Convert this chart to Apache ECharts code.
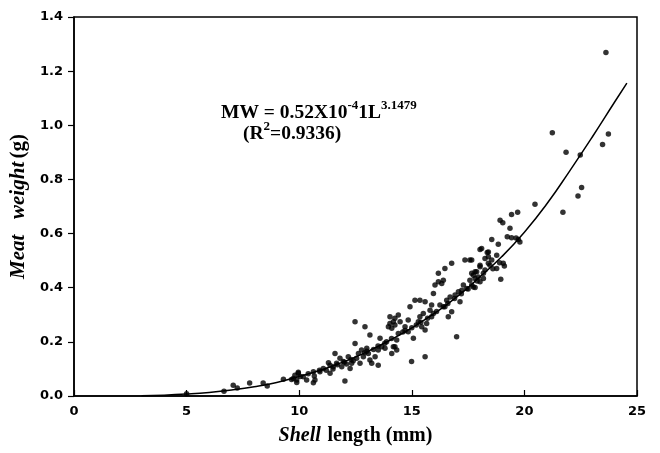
<!DOCTYPE html>
<html><head><meta charset="utf-8">
<script src="https://cdn.jsdelivr.net/npm/echarts@6/dist/echarts.min.js"></script>
<style>html,body{margin:0;padding:0;background:#fff}#c{width:660px;height:453px}</style>
</head><body><div id="c"></div>
<script>
const xTicks = [0, 5, 10, 15, 20, 25];
const yTicks = [0.0, 0.2, 0.4, 0.6, 0.8, 1.0, 1.2, 1.4];
// observed shell length (mm)
const shellLength = [
5.0,6.66,7.07,7.25,7.80,8.40,8.58,9.30,9.66,9.74,9.81,9.89,9.89,9.96,9.96,10.05,10.18,10.33,10.63,10.63,10.67,10.70,10.92,11.07,11.30,11.37,11.37,11.20,11.51,11.59,11.66,11.81,11.89,11.96,12.03,12.18,12.26,12.33,12.48,12.48,12.55,12.63,12.70,12.77,12.85,12.92,13.00,13.07,13.14,13.14,13.22,13.37,13.51,13.51,13.59,13.66,13.81,13.88,14.03,14.03,13.96,14.25,14.11,14.25,14.33,14.40,14.40,12.10,12.40,11.50,
14.18,14.25,14.11,14.48,14.18,14.33,14.70,14.84,14.84,14.92,14.99,15.07,15.14,15.36,15.59,15.29,15.36,15.51,15.44,15.59,15.66,15.59,15.81,15.88,15.96,16.03,15.88,15.96,16.18,16.33,16.40,16.18,16.47,16.77,16.25,16.47,16.55,16.70,16.77,16.62,16.99,16.92,17.07,17.22,17.14,17.29,17.44,17.36,17.58,17.58,17.66,17.81,17.73,17.95,18.03,18.10,18.03,18.18,18.25,18.40,18.40,
20.47,19.43,19.70,18.92,19.04,19.36,19.24,19.43,19.73,19.80,19.63,18.55,18.84,18.03,18.35,17.66,18.40,18.55,18.47,18.77,18.03,18.25,17.88,18.18,17.73,17.81,17.66,17.81,18.77,19.06,19.11,18.95,
23.62,21.24,21.85,22.48,23.47,23.73,22.54,22.38,21.71,
12.00,12.30,13.00,13.30,13.80,14.10,14.60,15.00,15.20,15.70,16.10,16.40,16.90,17.20,17.50,17.90,18.60,18.90,10.40,10.90,11.70,12.90,13.50,14.70,15.40,16.60
];
// observed meat weight (g)
const meatWeight = [
0.008,0.018,0.040,0.030,0.048,0.048,0.037,0.062,0.061,0.065,0.077,0.059,0.050,0.088,0.084,0.072,0.071,0.059,0.090,0.049,0.074,0.059,0.090,0.102,0.123,0.084,0.114,0.095,0.108,0.157,0.121,0.139,0.108,0.127,0.055,0.145,0.102,0.121,0.274,0.194,0.139,0.157,0.121,0.170,0.145,0.256,0.176,0.157,0.133,0.225,0.121,0.145,0.114,0.170,0.213,0.182,0.176,0.200,0.293,0.268,0.256,0.287,0.157,0.182,0.207,0.231,0.299,0.118,0.130,0.100,
0.274,0.262,0.250,0.274,0.182,0.170,0.256,0.281,0.237,0.330,0.127,0.213,0.354,0.354,0.348,0.274,0.293,0.305,0.256,0.244,0.268,0.145,0.317,0.336,0.379,0.410,0.293,0.305,0.422,0.416,0.428,0.453,0.471,0.490,0.336,0.330,0.354,0.366,0.311,0.293,0.219,0.373,0.385,0.391,0.348,0.410,0.397,0.502,0.502,0.428,0.453,0.459,0.403,0.440,0.477,0.545,0.422,0.434,0.508,0.532,0.490,
0.708,0.670,0.679,0.649,0.640,0.620,0.588,0.585,0.578,0.569,0.584,0.578,0.561,0.541,0.530,0.502,0.514,0.502,0.483,0.520,0.483,0.465,0.459,0.453,0.446,0.434,0.410,0.401,0.471,0.490,0.480,0.431,
1.269,0.972,0.900,0.890,0.929,0.968,0.770,0.739,0.679,
0.125,0.135,0.165,0.172,0.195,0.212,0.236,0.252,0.262,0.287,0.312,0.330,0.360,0.378,0.395,0.425,0.470,0.492,0.082,0.095,0.115,0.160,0.185,0.242,0.272,0.342
];
// fitted curve
const curveX = [3,4,5,6,7,8,9,10,11,12,13,14,15,16,17,18,19,20,21,22,23,24,24.55];
const curveY = [0.001,0.003,0.007,0.013,0.022,0.034,0.050,0.072,0.097,0.127,0.163,0.205,0.252,0.305,0.366,0.438,0.515,0.605,0.71,0.83,0.955,1.085,1.156];

const pts = shellLength.map((x, i) => [x, meatWeight[i]]);
const curve = curveX.map((x, i) => [x, curveY[i]]);

const chart = echarts.init(document.getElementById('c'), null, {renderer: 'canvas'});
const tickFont = {fontFamily: 'DejaVu Sans, Arial, sans-serif', fontWeight: 'bold', fontSize: 13, color: '#000'};
const serif = 'Liberation Serif, Times New Roman, serif';
chart.setOption({
  animation: false,
  backgroundColor: '#fff',
  grid: {left: 74, right: 23, top: 17, bottom: 57, show: true, borderColor: '#000', borderWidth: 1.5, backgroundColor: 'transparent'},
  xAxis: {
    type: 'value', min: 0, max: 25, interval: 5,
    axisLine: {show: true, lineStyle: {color: '#000', width: 1.5}},
    axisTick: {show: true, inside: true, length: 6, lineStyle: {color: '#000', width: 1.2}},
    axisLabel: Object.assign({margin: 9, formatter: v => String(v)}, tickFont),
    splitLine: {show: false},
    name: '{i|Shell}  {n|length (mm)}', nameLocation: 'middle', nameGap: 30,
    nameTextStyle: {rich: {
      i: {fontFamily: serif, fontWeight: 'bold', fontStyle: 'italic', fontSize: 20, color: '#000'},
      n: {fontFamily: serif, fontWeight: 'bold', fontSize: 20, color: '#000'}
    }}
  },
  yAxis: {
    type: 'value', min: 0, max: 1.4, interval: 0.2,
    axisLine: {show: true, lineStyle: {color: '#000', width: 1.5}},
    axisTick: {show: true, inside: false, length: 6, lineStyle: {color: '#000', width: 1.2}},
    axisLabel: Object.assign({margin: 11, formatter: v => v.toFixed(1)}, tickFont),
    splitLine: {show: false},
    name: '{i|Meat   weight} {n|(g)}', nameLocation: 'middle', nameGap: 44, nameRotate: 90,
    nameTextStyle: {rich: {
      i: {fontFamily: serif, fontWeight: 'bold', fontStyle: 'italic', fontSize: 21, color: '#000'},
      n: {fontFamily: serif, fontWeight: 'bold', fontSize: 21, color: '#000'}
    }}
  },
  series: [
    {type: 'scatter', data: pts, symbol: 'circle', symbolSize: 5.5, itemStyle: {color: '#000'}, z: 3},
    {type: 'line', data: curve, smooth: true, showSymbol: false, symbol: 'none', lineStyle: {color: '#000', width: 1.5}, z: 4}
  ],
  graphic: [
    {type: 'text', left: 221, top: 99, style: {
      text: '{b|MW = 0.52X10}{s|-4}{b|1L}{s|3.1479}',
      rich: {
        b: {fontFamily: serif, fontWeight: 'bold', fontSize: 19.5, color: '#000', verticalAlign: 'bottom', lineHeight: 24},
        s: {fontFamily: serif, fontWeight: 'bold', fontSize: 13, color: '#000', verticalAlign: 'top', lineHeight: 24, padding: [0,0,10,0]}
      }
    }},
    {type: 'text', left: 243, top: 120, style: {
      text: '{b|(R}{s|2}{b|=0.9336)}',
      rich: {
        b: {fontFamily: serif, fontWeight: 'bold', fontSize: 19.5, color: '#000', verticalAlign: 'bottom', lineHeight: 24},
        s: {fontFamily: serif, fontWeight: 'bold', fontSize: 13, color: '#000', verticalAlign: 'top', lineHeight: 24, padding: [0,0,10,0]}
      }
    }}
  ]
});
</script></body></html>
